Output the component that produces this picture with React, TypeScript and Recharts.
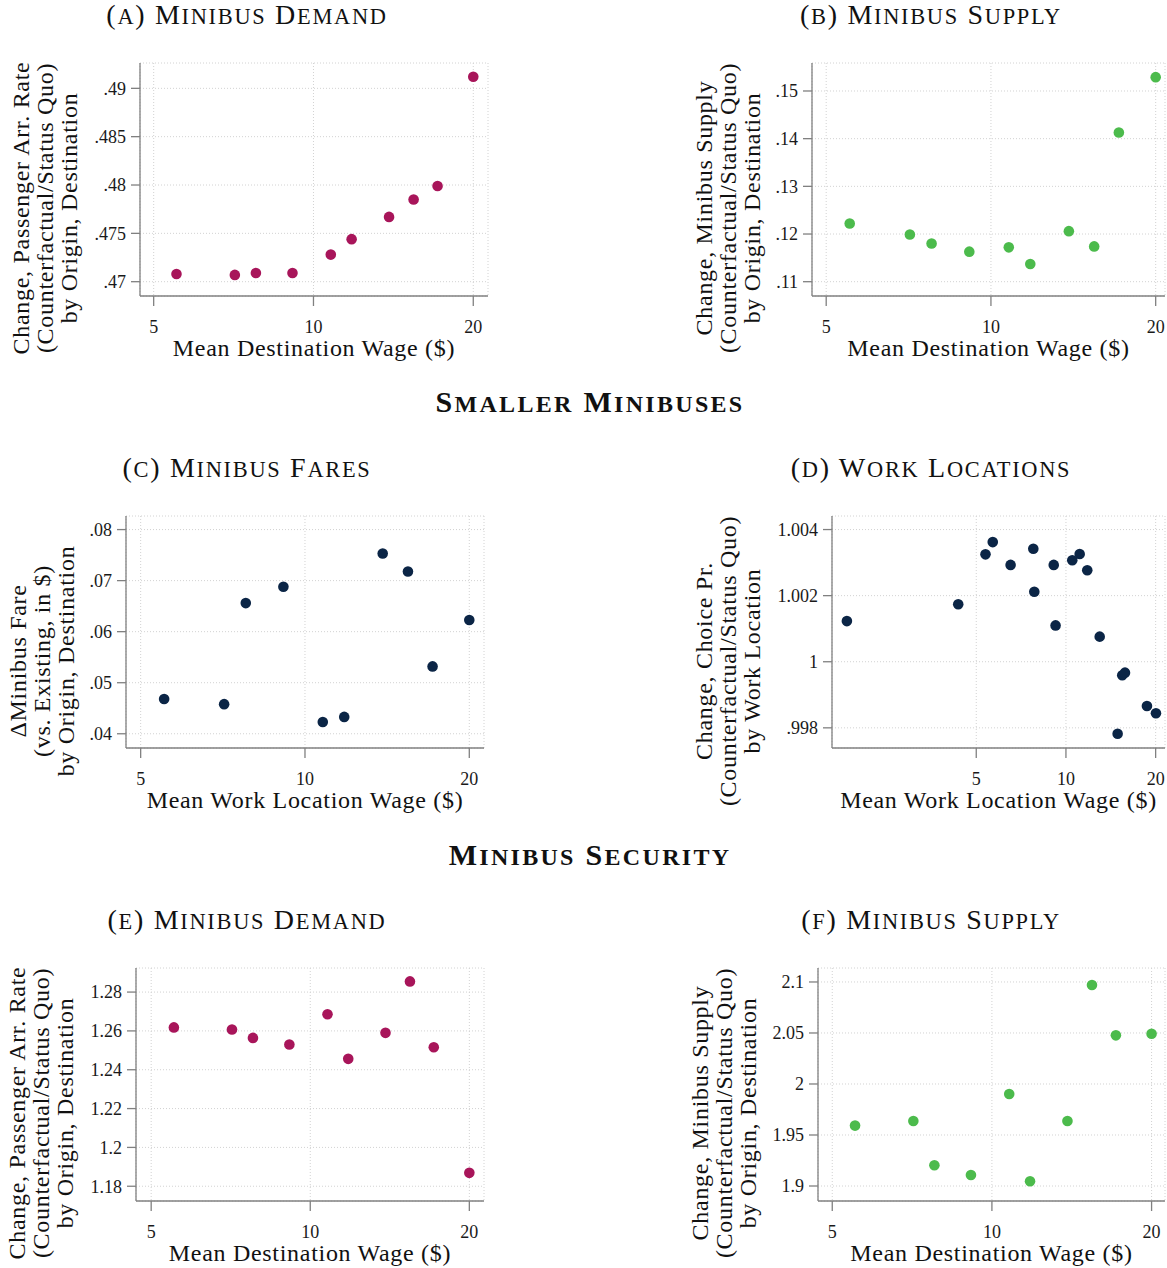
import React from 'react';
import { ScatterChart, Scatter, XAxis, YAxis, CartesianGrid } from 'recharts';

// destination wages (shared by panels A, B, C, E, F)
const destWage = [5.52, 7.11, 7.79, 9.13, 10.78, 11.8, 13.88, 15.44, 17.13, 20.0];
const demandSmaller = [0.4708, 0.4707, 0.4709, 0.4709, 0.4728, 0.4744, 0.4767, 0.4785, 0.4799, 0.4912];
const supplySmaller = [0.1222, 0.1199, 0.118, 0.1163, 0.1172, 0.1137, 0.1206, 0.1174, 0.1413, 0.1529];
const faresSmaller = [0.0468, 0.0458, 0.0656, 0.0688, 0.0423, 0.0433, 0.0753, 0.0718, 0.0532, 0.0623];

// work locations (panel D)
const workWage = [1.84, 4.35, 5.37, 5.68, 6.52, 7.77, 7.83, 9.1, 9.23, 10.5, 11.12, 11.79, 12.98, 15.45, 15.78, 14.91, 18.7, 20.05];
const workChoice = [1.00123, 1.00174, 1.00325, 1.00362, 1.00293, 1.00342, 1.00212, 1.00293, 1.0011, 1.00307, 1.00326, 1.00277, 1.00076, 0.99959, 0.99967, 0.99782, 0.99866, 0.99844];

const demandSecurity = [1.2618, 1.2607, 1.2564, 1.253, 1.2686, 1.2456, 1.259, 1.2855, 1.2516, 1.1869];
const supplySecurity = [1.9592, 1.9637, 1.9203, 1.9108, 1.9902, 1.9046, 1.9637, 2.0971, 2.0477, 2.0493];

const xTicks = [5, 10, 20];
const yTicksA = [0.47, 0.475, 0.48, 0.485, 0.49];
const yTicksB = [0.11, 0.12, 0.13, 0.14, 0.15];
const yTicksC = [0.04, 0.05, 0.06, 0.07, 0.08];
const yTicksD = [0.998, 1, 1.002, 1.004];
const yTicksE = [1.18, 1.2, 1.22, 1.24, 1.26, 1.28];
const yTicksF = [1.9, 1.95, 2, 2.05, 2.1];

const FONT = '"Liberation Serif", "Times New Roman", serif';
const AXIS = '#808080';
const GRID = '#d2d2d2';
const MAGENTA = '#a8155a';
const GREEN = '#4cbb4c';
const NAVY = '#0b2546';

const PAD_L = 70, PAD_T = 10, PAD_R = 2, PAD_B = 50;

const fmtTick = (v: number) => {
  const s = String(v);
  return s.startsWith('0.') ? s.slice(1) : s;
};

// LaTeX-like small caps: lower-case letters drawn as smaller capitals
const smallCaps = (text: string, size: number, ratio: number) => {
  const runs: { s: string; low: boolean }[] = [];
  for (const ch of text) {
    const low = ch !== ch.toUpperCase();
    const last = runs[runs.length - 1];
    if (last && last.low === low) last.s += ch;
    else runs.push({ s: ch, low });
  }
  return runs.map((r, i) => (
    <tspan key={i} fontSize={r.low ? size * ratio : size}>{r.low ? r.s.toUpperCase() : r.s}</tspan>
  ));
};

type PanelDef = {
  title: string;
  x: number[];
  y: number[];
  color: string;
  plot: [number, number, number, number]; // left, right, top, bottom
  xDomain: [number, number];
  yDomain: [number, number];
  yTicks: number[];
  xTitle: string;
  yTitle: string[];
  yTitleX: number; // baseline of first y-title line
};

const panels: PanelDef[] = [
  {
    title: '(a) Minibus Demand', x: destWage, y: demandSmaller, color: MAGENTA,
    plot: [140, 488, 63, 296], xDomain: [4.712, 21.32], yDomain: [0.46852, 0.49262], yTicks: yTicksA,
    xTitle: 'Mean Destination Wage ($)',
    yTitle: ['Change, Passenger Arr. Rate', '(Counterfactual/Status Quo)', 'by Origin, Destination'], yTitleX: 29,
  },
  {
    title: '(b) Minibus Supply', x: destWage, y: supplySmaller, color: GREEN,
    plot: [812, 1165, 63, 296], xDomain: [4.71, 20.8], yDomain: [0.107, 0.15587], yTicks: yTicksB,
    xTitle: 'Mean Destination Wage ($)',
    yTitle: ['Change, Minibus Supply', '(Counterfactual/Status Quo)', 'by Origin, Destination'], yTitleX: 712,
  },
  {
    title: '(c) Minibus Fares', x: destWage, y: faresSmaller, color: NAVY,
    plot: [126, 484, 516, 748], xDomain: [4.7, 21.28], yDomain: [0.03721, 0.08266], yTicks: yTicksC,
    xTitle: 'Mean Work Location Wage ($)',
    yTitle: ['\u0394Minibus Fare', '(vs. Existing, in $)', 'by Origin, Destination'], yTitleX: 26,
  },
  {
    title: '(d) Work Locations', x: workWage, y: workChoice, color: NAVY,
    plot: [832, 1165, 516, 748], xDomain: [1.64, 21.5], yDomain: [0.99739, 1.00441], yTicks: yTicksD,
    xTitle: 'Mean Work Location Wage ($)',
    yTitle: ['Change, Choice Pr.', '(Counterfactual/Status Quo)', 'by Work Location'], yTitleX: 712,
  },
  {
    title: '(e) Minibus Demand', x: destWage, y: demandSecurity, color: MAGENTA,
    plot: [136, 484, 968, 1201], xDomain: [4.68, 21.32], yDomain: [1.1724, 1.2924], yTicks: yTicksE,
    xTitle: 'Mean Destination Wage ($)',
    yTitle: ['Change, Passenger Arr. Rate', '(Counterfactual/Status Quo)', 'by Origin, Destination'], yTitleX: 25,
  },
  {
    title: '(f) Minibus Supply', x: destWage, y: supplySecurity, color: GREEN,
    plot: [818, 1165, 968, 1201], xDomain: [4.7, 21.2], yDomain: [1.8853, 2.1137], yTicks: yTicksF,
    xTitle: 'Mean Destination Wage ($)',
    yTitle: ['Change, Minibus Supply', '(Counterfactual/Status Quo)', 'by Origin, Destination'], yTitleX: 708,
  },
];

const Panel = ({ p }: { p: PanelDef }) => {
  const [l, r, t, b] = p.plot;
  const data = p.x.map((x, i) => ({ x, y: p.y[i] }));
  const dot = (s: any) => <circle cx={s.cx} cy={s.cy} r={5.3} fill={p.color} />;
  return (
    <div style={{ position: 'absolute', left: l - PAD_L, top: t - PAD_T }}>
      <ScatterChart width={r - l + PAD_L + PAD_R} height={b - t + PAD_T + PAD_B}
        margin={{ top: PAD_T, right: PAD_R, bottom: 0, left: 0 }}>
        <CartesianGrid stroke={GRID} strokeDasharray="1 2" />
        <XAxis type="number" dataKey="x" scale="log" domain={p.xDomain} ticks={xTicks}
          allowDataOverflow interval={0} height={PAD_B}
          stroke={AXIS} strokeWidth={1.3} tickSize={10} tickMargin={14}
          tick={{ fill: '#1a1a1a', fontSize: 18, fontFamily: FONT }} />
        <YAxis type="number" dataKey="y" domain={p.yDomain} ticks={p.yTicks}
          allowDataOverflow interval={0} width={PAD_L} tickFormatter={fmtTick}
          stroke={AXIS} strokeWidth={1.3} tickSize={9} tickMargin={5}
          tick={{ fill: '#1a1a1a', fontSize: 18, fontFamily: FONT }} />
        <Scatter data={data} fill={p.color} shape={dot} isAnimationActive={false} />
      </ScatterChart>
    </div>
  );
};

const sections = [
  { text: 'Smaller Minibuses', y: 412 },
  { text: 'Minibus Security', y: 865 },
];

export default function App() {
  return (
    <div style={{ position: 'absolute', left: 0, top: 0, width: 1167, height: 1268, background: '#fff' }}>
      {panels.map((p) => <Panel key={p.title} p={p} />)}
      <svg width={1167} height={1268} style={{ position: 'absolute', left: 0, top: 0, pointerEvents: 'none' }}
        fontFamily={FONT} fill="#111">
        {panels.map((p) => {
          const [l, r, t, b] = p.plot;
          const titleCx = l < 500 ? 247 : 931;
          return (
            <g key={p.title}>
              <text x={titleCx} y={t - 39} textAnchor="middle" letterSpacing={1.7}>
                {smallCaps(p.title, 28, 0.8)}
              </text>
              <text x={(l + r) / 2} y={b + 60} textAnchor="middle" fontSize={24} letterSpacing={0.7}>{p.xTitle}</text>
              {p.yTitle.map((line, i) => (
                <text key={line} transform={`translate(${p.yTitleX + i * 24},${t + 145}) rotate(-90)`}
                  textAnchor="middle" fontSize={24} letterSpacing={0.7}>{line}</text>
              ))}
            </g>
          );
        })}
        {sections.map((s) => (
          <text key={s.text} x={590} y={s.y} textAnchor="middle" fontWeight="bold" letterSpacing={2.3}>
            {smallCaps(s.text, 30, 0.8)}
          </text>
        ))}
      </svg>
    </div>
  );
}
